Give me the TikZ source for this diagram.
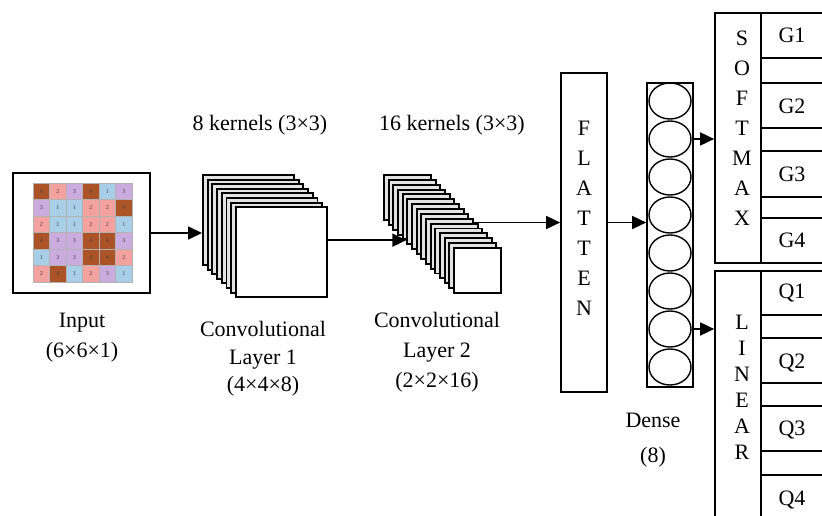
\documentclass[tikz,border=0pt]{standalone}
\usepackage{fontspec}
\setmainfont{Liberation Serif}
\usetikzlibrary{arrows.meta,shapes.geometric}
\definecolor{cv1}{RGB}{168,206,232}
\definecolor{cv2}{RGB}{244,162,160}
\definecolor{cv3}{RGB}{204,172,222}
\definecolor{cv4}{RGB}{172,84,40}
\begin{document}
\begin{tikzpicture}[x=1pt,y=-1pt,
  box/.style={draw,line width=1.7pt,inner sep=0pt},
  lab/.style={font=\fontsize{22}{27}\selectfont,align=center,inner sep=0pt},
  arr/.style={line width=1.7pt,-{Triangle[length=14pt,width=13pt]}},
  cell/.style={draw=gray!60,line width=0.4pt,minimum size=16.5pt,inner sep=0pt,font=\fontsize{6}{6}\selectfont,text=black!75},
  fmap/.style={draw,line width=1.9pt,fill=gray!22,inner sep=0pt,anchor=north west},
  neuron/.style={draw,ellipse,line width=1.4pt,minimum width=42pt,minimum height=36pt,inner sep=0pt}]
\useasboundingbox (0,0) rectangle (822,516);
\fill[white] (0,0) rectangle (822,516);

% input
\node[box,minimum width=137pt,minimum height=120pt] (inbox) at (81.5,233) {};
\foreach \v [count=\i from 0] in {4,2,3,4,1,3, 3,1,1,2,2,4, 2,1,1,2,2,1, 4,3,3,4,4,3, 1,3,3,4,4,2, 2,4,1,2,3,1}{
  \pgfmathtruncatemacro\rr{div(\i,6)}
  \pgfmathtruncatemacro\cc{mod(\i,6)}
  \node[cell,fill=cv\v] (cell-\i) at ({33+8.25+16.5*\cc},{183+8.25+16.5*\rr}) {\v};
}
\node[lab,font=\fontsize{22}{30}\selectfont] (inlab) at (82,338) {Input\\(6×6×1)};

% conv layer 1
\foreach \i in {0,...,6}
  \node[fmap,minimum width=91pt,minimum height=90pt] (c1-\i) at ({202+4.7*\i},{174+4.6*\i}) {};
\node[fmap,fill=white,minimum width=91pt,minimum height=90pt] (c1-7) at ({202+4.7*7},{174+4.6*7}) {};
\node[lab] (k1) at (260,125) {8 kernels (3×3)};
\node[lab,font=\fontsize{22}{27.5}\selectfont] (c1lab) at (263,359) {Convolutional\\Layer 1\\(4×4×8)};

% conv layer 2
\foreach \i in {0,...,14}
  \node[fmap,minimum width=47pt,minimum height=45pt] (c2-\i) at ({383+4.67*\i},{174+4.87*\i}) {};
\node[fmap,fill=white,minimum width=47pt,minimum height=45pt] (c2-15) at ({383+4.67*15},{174+4.87*15}) {};
\node[lab] (k2) at (452,125) {16 kernels (3×3)};
\node[lab,font=\fontsize{22}{30}\selectfont] (c2lab) at (437,352) {Convolutional\\Layer 2\\(2×2×16)};

% flatten
\node[box,minimum width=46pt,minimum height=319pt] (flat) at (584,232.5) {};
\node[lab,font=\fontsize{22}{30}\selectfont] (flattxt) at (584,218) {F\\L\\A\\T\\T\\E\\N};

% dense
\node[box,minimum width=46pt,minimum height=304pt] (dense) at (670,235) {};
\foreach \i in {0,...,7}
  \node[neuron] (e\i) at (670,{101+38*\i}) {};
\node[lab,font=\fontsize{22}{35}\selectfont] (denselab) at (653,440) {Dense\\(8)};

% softmax
\node[box,minimum width=46pt,minimum height=250pt] (soft) at (738,138) {};
\node[box,minimum width=62pt,minimum height=250pt] (softr) at (792,138) {};
\foreach \y in {58,83,128,151,197,218}
  \draw[line width=1.7pt] (761,\y) -- (823,\y);
\node[lab,font=\fontsize{22}{30}\selectfont] (softtxt) at (742,128) {S\\O\\F\\T\\M\\A\\X};
\node[lab] (g1) at (792,35) {G1};
\node[lab] (g2) at (792,106) {G2};
\node[lab] (g3) at (792,174) {G3};
\node[lab] (g4) at (792,240) {G4};

% linear
\node[box,minimum width=46pt,minimum height=269pt] (lin) at (738,405.5) {};
\node[box,minimum width=62pt,minimum height=269pt] (linr) at (792,405.5) {};
\foreach \y in {315,338,383,406,451,475}
  \draw[line width=1.7pt] (761,\y) -- (823,\y);
\node[lab,font=\fontsize{22}{26}\selectfont] (lintxt) at (742,387) {L\\I\\N\\E\\A\\R};
\node[lab] (q1) at (792,293) {Q1};
\node[lab] (q2) at (792,363) {Q2};
\node[lab] (q3) at (792,430) {Q3};
\node[lab] (q4) at (792,500) {Q4};

% connectors
\draw[arr] (inbox.east) -- (inbox.east -| c1-0.west);
\coordinate (a2) at ([yshift=12pt]c1-7.east);
\draw[arr] (a2) -- (a2 -| c2-5.west);
\coordinate (a3) at ([yshift=10pt]flat.west);
\draw[arr] (a3 -| c2-9.east) -- (a3);
\coordinate (a4) at ([yshift=10pt]flat.east);
\draw[arr] (a4) -- (a4 -| dense.west);
\draw[arr] (e1 -| dense.east) -- (e1 -| soft.west);
\draw[arr] (e6 -| dense.east) -- (e6 -| lin.west);
\end{tikzpicture}
\end{document}
